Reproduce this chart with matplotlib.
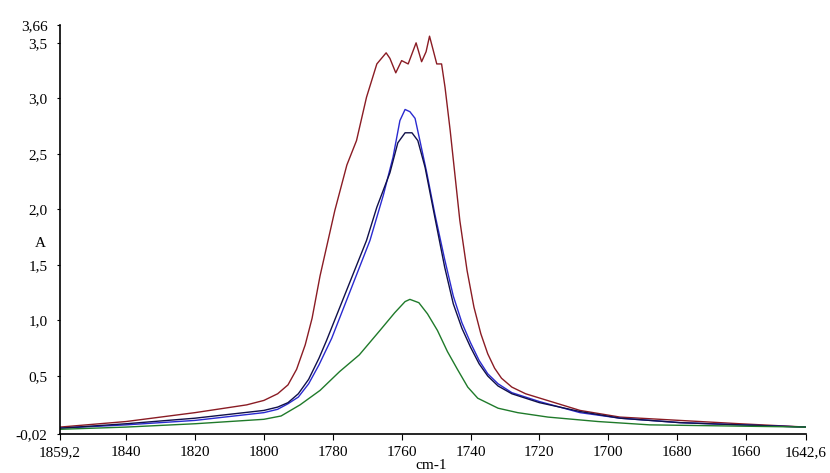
import matplotlib.pyplot as plt

plt.rcParams['font.family'] = ['Liberation Serif', 'DejaVu Serif']

# spectra (wavenumber cm-1, absorbance)
red_x = [1859.2, 1840, 1820, 1805, 1800, 1796, 1793, 1790.5, 1788, 1786, 1783.7,
         1779.4, 1775.9, 1773.1, 1770.2, 1767.2, 1764.5, 1763.4, 1761.7, 1760.0,
         1758.1, 1755.8, 1754.2, 1752.9, 1751.9, 1750.8, 1749.8, 1748.4, 1747.4,
         1745.9, 1743.1, 1741, 1739, 1737, 1735, 1733, 1731, 1728, 1724, 1719.8,
         1708.2, 1696.6, 1679.2, 1661.8, 1642.6]
red_y = [0.04, 0.09, 0.17, 0.24, 0.28, 0.34, 0.42, 0.56, 0.78, 1.02, 1.40,
         1.99, 2.40, 2.62, 3.01, 3.31, 3.41, 3.36, 3.23, 3.34,
         3.31, 3.50, 3.33, 3.42, 3.56, 3.43, 3.31, 3.31, 3.10,
         2.71, 1.90, 1.45, 1.12, 0.88, 0.70, 0.57, 0.48, 0.40, 0.34, 0.30,
         0.19, 0.13, 0.10, 0.07, 0.04]

blue_x = [1859.2, 1840, 1820, 1800, 1796, 1793, 1790, 1787, 1784, 1780.3, 1775.0,
          1769.2, 1765.3, 1762.5, 1760.5, 1759.0, 1757.6, 1756.1, 1754.7, 1752.7,
          1750.3, 1747.5, 1745, 1742.5, 1740, 1737.5, 1735, 1732, 1728, 1720,
          1708.2, 1696.6, 1679.2, 1661.8, 1642.6]
blue_y = [0.03, 0.06, 0.10, 0.17, 0.20, 0.25, 0.31, 0.43, 0.60, 0.84, 1.26,
          1.72, 2.13, 2.47, 2.80, 2.90, 2.88, 2.82, 2.62, 2.33,
          1.95, 1.55, 1.22, 0.98, 0.80, 0.64, 0.52, 0.43, 0.35, 0.27,
          0.17, 0.12, 0.08, 0.06, 0.04]

navy_x = [1859.2, 1840, 1820, 1800, 1796, 1793, 1790, 1787, 1784, 1781.8, 1776,
          1770.2, 1767.2, 1763.4, 1761.1, 1759.0, 1757.0, 1755.3, 1753.2, 1750.3,
          1747.5, 1745, 1742.5, 1740, 1737.5, 1735, 1732, 1728, 1720,
          1708.2, 1696.6, 1679.2, 1661.8, 1642.6]
navy_y = [0.03, 0.07, 0.12, 0.19, 0.22, 0.26, 0.34, 0.47, 0.66, 0.82, 1.27,
          1.72, 2.02, 2.33, 2.60, 2.69, 2.69, 2.62, 2.38, 1.92,
          1.48, 1.15, 0.93, 0.76, 0.61, 0.50, 0.41, 0.34, 0.26,
          0.18, 0.12, 0.08, 0.06, 0.04]

green_x = [1859.2, 1840, 1820, 1800, 1795, 1789.5, 1783.7, 1778, 1772.3, 1766.3,
           1762, 1759.0, 1757.6, 1755, 1752.5, 1749.6, 1746.7, 1743.8, 1740.8,
           1737.9, 1732, 1726.3, 1717.5, 1703, 1688.0, 1642.6]
green_y = [0.02, 0.04, 0.07, 0.11, 0.14, 0.24, 0.37, 0.54, 0.69, 0.91,
           1.07, 1.17, 1.19, 1.16, 1.06, 0.91, 0.72, 0.56, 0.40,
           0.30, 0.21, 0.17, 0.13, 0.09, 0.06, 0.04]

x_ticks = [1859.2, 1840, 1820, 1800, 1780, 1760, 1740, 1720, 1700, 1680, 1660, 1642.6]
y_ticks = [-0.02, 0.5, 1.0, 1.5, 2.0, 2.5, 3.0, 3.5, 3.66]

fig = plt.figure(figsize=(8.3, 4.73), dpi=100)
ax = fig.add_axes([0.0723, 0.083, 0.8987, 0.864])

ax.plot(red_x, red_y, color='#8a1c24', lw=1.0)
ax.plot(blue_x, blue_y, color='#2a2ad0', lw=1.0)
ax.plot(navy_x, navy_y, color='#10104a', lw=1.0)
ax.plot(green_x, green_y, color='#1f7a2a', lw=1.0)

ax.set_xlim(1859.2, 1642.6)
ax.set_ylim(-0.02, 3.66)
ax.set_xticks(x_ticks)
ax.set_xticklabels([f'{v:g}'.replace('.', ',') for v in x_ticks])
ax.set_yticks(y_ticks)
ax.set_yticklabels([f'{v:.1f}'.replace('.', ',') if v not in (-0.02, 3.66)
                    else f'{v:.2f}'.replace('.', ',') for v in y_ticks])
ax.tick_params(labelsize=11, width=0.8, direction='out')
ax.tick_params(axis='x', length=4, pad=5)
ax.tick_params(axis='y', length=2, pad=7)

for s in ['top', 'right']:
    ax.spines[s].set_visible(False)
ax.spines['left'].set_linewidth(1.2)
ax.spines['bottom'].set_linewidth(1.2)

fig.text(0.049, 0.486, 'A', fontsize=11, ha='center', va='center')
fig.text(0.520, 0.003, 'cm-1', fontsize=11, ha='center', va='bottom')

fig.savefig('out.png', dpi=100)
